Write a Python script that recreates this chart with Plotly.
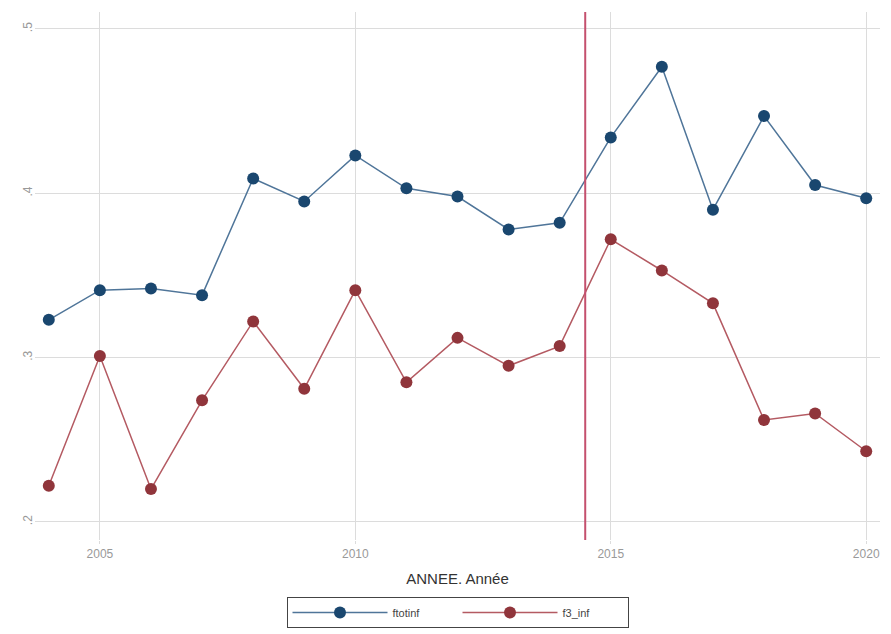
import plotly.graph_objects as go

years = list(range(2004, 2021))
ftotinf = [0.323, 0.341, 0.342, 0.338, 0.409, 0.395, 0.423, 0.403, 0.398,
           0.378, 0.382, 0.434, 0.477, 0.390, 0.447, 0.405, 0.397]
f3_inf = [0.222, 0.301, 0.220, 0.274, 0.322, 0.281, 0.341, 0.285, 0.312,
          0.295, 0.307, 0.372, 0.353, 0.333, 0.262, 0.266, 0.243]
cut_year = 2014.5
y_ticks = [0.2, 0.3, 0.4, 0.5]
y_labels = [".2", ".3", ".4", ".5"]
x_ticks = [2005, 2010, 2015, 2020]

fig = go.Figure()
fig.add_trace(go.Scatter(
    x=years, y=ftotinf, name="ftotinf", mode="lines+markers",
    line=dict(color="#4f7599", width=1.5),
    marker=dict(color="#1a476f", size=12, line=dict(width=0)),
))
fig.add_trace(go.Scatter(
    x=years, y=f3_inf, name="f3_inf", mode="lines+markers",
    line=dict(color="#b45a62", width=1.5),
    marker=dict(color="#90353b", size=12, line=dict(width=0)),
))

fig.add_shape(type="line", x0=cut_year, x1=cut_year, xref="x",
              y0=0, y1=1, yref="paper",
              line=dict(color="#c4506e", width=2))

# page body adds ~8px offset, so size the figure a little smaller
fig.update_layout(
    width=883, height=626,
    margin=dict(l=27, r=11, t=4, b=94),
    plot_bgcolor="white", paper_bgcolor="white",
    font=dict(family="Liberation Sans, Arial, sans-serif", color="#333"),
    xaxis=dict(
        range=[2003.73, 2020.27], tickvals=x_ticks, automargin=False,
        showgrid=True, gridcolor="#dcdcdc", gridwidth=1,
        ticks="outside", ticklen=3, tickcolor="#dcdcdc",
        zeroline=False, showline=False,
        tickfont=dict(size=12, color="#999"),
        title=dict(text="ANNEE. Année", font=dict(size=15, color="#333"), standoff=13),
    ),
    yaxis=dict(
        range=[0.189, 0.5103], tickvals=y_ticks, ticktext=y_labels,
        tickangle=-90, automargin=False,
        showgrid=True, gridcolor="#dcdcdc", gridwidth=1,
        zeroline=False, showline=False,
        tickfont=dict(size=12, color="#999"),
    ),
    legend=dict(
        orientation="h", x=0.5, xanchor="center", y=-0.108, yanchor="top",
        bordercolor="#444", borderwidth=1,
        font=dict(size=11, color="#444"),
        itemwidth=95, entrywidth=60,
    ),
)

fig.write_html("out.html")
